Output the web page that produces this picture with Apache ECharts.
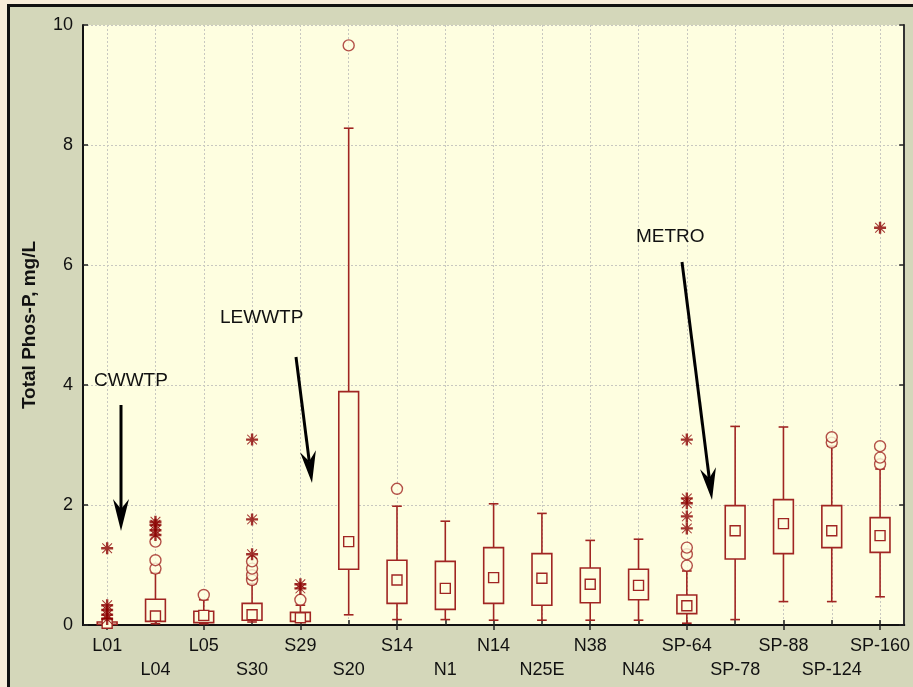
<!DOCTYPE html>
<html>
<head>
<meta charset="utf-8">
<script src="https://cdn.jsdelivr.net/npm/echarts@6/dist/echarts.min.js"></script>
<style>
  html, body { margin: 0; padding: 0; }
  #wrap { position: relative; width: 913px; height: 687px; background: #f7ecd9; overflow: hidden; }
  #frame { position: absolute; left: 7px; top: 4px; width: 920px; height: 700px; background: #d4d7ba; border: 3px solid #111; box-sizing: border-box; }
  #chart { position: absolute; left: 0; top: 0; width: 913px; height: 687px; }
</style>
</head>
<body>
<div id="wrap">
  <div id="frame"></div>
  <div id="chart"></div>
</div>
<script>
// Sampling stations, upstream to downstream
const categories = ['L01', 'L04', 'L05', 'S30', 'S29', 'S20', 'S14', 'N1', 'N14', 'N25E',
                    'N38', 'N46', 'SP-64', 'SP-78', 'SP-88', 'SP-124', 'SP-160'];

// Box statistics, Total Phos-P (mg/L)
const whiskerLow  = [0.00, 0.02, 0.02, 0.05, 0.05, 0.17, 0.09, 0.09, 0.08, 0.08, 0.08, 0.08, 0.03, 0.09, 0.39, 0.39, 0.47];
const quartile1   = [0.01, 0.06, 0.04, 0.08, 0.06, 0.93, 0.36, 0.26, 0.36, 0.33, 0.37, 0.42, 0.19, 1.10, 1.19, 1.29, 1.21];
const medians     = [0.03, 0.15, 0.16, 0.17, 0.12, 1.39, 0.75, 0.61, 0.79, 0.78, 0.68, 0.66, 0.32, 1.57, 1.69, 1.57, 1.49];
const quartile3   = [0.05, 0.43, 0.23, 0.36, 0.21, 3.89, 1.08, 1.06, 1.29, 1.19, 0.95, 0.93, 0.50, 1.99, 2.09, 1.99, 1.79];
const whiskerHigh = [0.07, 0.87, 0.42, 0.69, 0.33, 8.28, 1.98, 1.73, 2.02, 1.86, 1.41, 1.43, 0.90, 3.31, 3.30, 2.98, 2.60];

// Outliers (circles) and extremes (stars): [station, value]
const outliers = [
  ['L04', 0.94], ['L04', 1.08], ['L04', 1.39],
  ['L05', 0.50],
  ['S30', 0.75], ['S30', 0.83], ['S30', 0.94], ['S30', 1.06],
  ['S29', 0.42],
  ['S20', 9.66],
  ['S14', 2.27],
  ['SP-64', 0.99], ['SP-64', 1.18], ['SP-64', 1.29],
  ['SP-124', 3.04], ['SP-124', 3.13],
  ['SP-160', 2.68], ['SP-160', 2.79], ['SP-160', 2.98]
];
const extremes = [
  ['L01', 1.28], ['L01', 0.33], ['L01', 0.25], ['L01', 0.17], ['L01', 0.10],
  ['L04', 1.50], ['L04', 1.58], ['L04', 1.67], ['L04', 1.72],
  ['S30', 1.18], ['S30', 1.76], ['S30', 3.09],
  ['S29', 0.61], ['S29', 0.68],
  ['SP-64', 1.61], ['SP-64', 1.81], ['SP-64', 2.03], ['SP-64', 2.11], ['SP-64', 3.09],
  ['SP-160', 6.62]
];

// Y axis ticks
const yMin = 0, yMax = 10, yStep = 2;

const BOX = '#a02522';
const STAR = '#8b0000';
const PLOT_BG = '#fefee0';
const FONT = '"Liberation Sans", Arial, sans-serif';

const boxData = categories.map((c, i) =>
  [i, whiskerLow[i], quartile1[i], medians[i], quartile3[i], whiskerHigh[i]]);

// asterisk marker: bold plus with thin diagonals
const starPath = 'path://M0,4.8H12V7.2H0Z M4.8,0H7.2V12H4.8Z M1.5,0.8L11.2,10.5L10.5,11.2L0.8,1.5Z M10.5,0.8L11.2,1.5L1.5,11.2L0.8,10.5Z';

function renderBox(params, api) {
  const i = api.value(0);
  const band = api.size([1, 0])[0];
  const bw = band * 0.41, cw = band * 0.2, ms = 10;
  const lo = api.coord([i, api.value(1)]);
  const b1 = api.coord([i, api.value(2)]);
  const md = api.coord([i, api.value(3)]);
  const b3 = api.coord([i, api.value(4)]);
  const hi = api.coord([i, api.value(5)]);
  const x = lo[0];
  const ls = { stroke: BOX, lineWidth: 1.6, fill: null };
  return {
    type: 'group',
    children: [
      { type: 'line', shape: { x1: x, y1: lo[1], x2: x, y2: b1[1] }, style: ls },
      { type: 'line', shape: { x1: x, y1: b3[1], x2: x, y2: hi[1] }, style: ls },
      { type: 'line', shape: { x1: x - cw / 2, y1: lo[1], x2: x + cw / 2, y2: lo[1] }, style: ls },
      { type: 'line', shape: { x1: x - cw / 2, y1: hi[1], x2: x + cw / 2, y2: hi[1] }, style: ls },
      { type: 'rect', shape: { x: x - bw / 2, y: b3[1], width: bw, height: b1[1] - b3[1] },
        style: { stroke: BOX, lineWidth: 1.6, fill: PLOT_BG } },
      { type: 'rect', shape: { x: x - ms / 2, y: md[1] - ms / 2, width: ms, height: ms },
        style: { stroke: BOX, lineWidth: 1.4, fill: PLOT_BG } }
    ]
  };
}

// arrow callouts
function arrow(x1, y1, x2, y2) {
  const dx = x2 - x1, dy = y2 - y1, len = Math.hypot(dx, dy);
  const ux = dx / len, uy = dy / len, px = -uy, py = ux;
  const hl = 32, hw = 8, notch = 10;
  const bx = x2 - ux * hl, by = y2 - uy * hl;
  const nx = x2 - ux * (hl - notch), ny = y2 - uy * (hl - notch);
  return [
    { type: 'line', shape: { x1: x1, y1: y1, x2: nx, y2: ny }, style: { stroke: '#000', lineWidth: 3 }, z: 50 },
    { type: 'polygon', shape: { points: [[x2, y2], [bx + px * hw, by + py * hw], [nx, ny], [bx - px * hw, by - py * hw]] },
      style: { fill: '#000' }, z: 50 }
  ];
}

function note(text, x, y) {
  return { type: 'text', x: x, y: y, z: 50,
           style: { text: text, fill: '#111', font: '19px ' + FONT, textVerticalAlign: 'middle' } };
}

const chart = echarts.init(document.getElementById('chart'), null, { renderer: 'canvas' });

chart.setOption({
  backgroundColor: 'transparent',
  animation: false,
  grid: { left: 83, right: 6, top: 25, bottom: 62, show: true, backgroundColor: PLOT_BG,
          borderColor: '#222', borderWidth: 0 },
  xAxis: [
    {
      type: 'category', data: categories, boundaryGap: true,
      axisLine: { show: true, lineStyle: { color: '#111', width: 2 } },
      axisTick: { show: true, inside: true, alignWithLabel: true, length: 5, lineStyle: { color: '#222', width: 1.5 } },
      axisLabel: {
        interval: 0, color: '#111', fontSize: 18, fontFamily: FONT, margin: 9, lineHeight: 24,
        formatter: (v, idx) => (idx % 2 ? '\n' + v : v)
      },
      splitLine: { show: true, interval: 0, alignWithLabel: true, lineStyle: { color: '#c8c8c0', type: [2, 2], width: 1 } }
    },
    {
      type: 'category', data: categories, boundaryGap: true, position: 'top',
      axisLine: { show: true, lineStyle: { color: '#111', width: 2 } },
      axisTick: { show: true, inside: true, alignWithLabel: true, length: 5, lineStyle: { color: '#222', width: 1.5 } },
      axisLabel: { show: false },
      splitLine: { show: false }
    }
  ],
  yAxis: [
    {
      type: 'value', min: yMin, max: yMax, interval: yStep,
      name: 'Total Phos-P, mg/L', nameLocation: 'middle', nameGap: 44,
      nameTextStyle: { fontSize: 19, fontWeight: 'bold', color: '#111', fontFamily: FONT },
      axisLine: { show: true, lineStyle: { color: '#111', width: 2 } },
      axisTick: { show: true, inside: true, length: 5, lineStyle: { color: '#222', width: 1.5 } },
      axisLabel: { color: '#111', fontSize: 18, fontFamily: FONT, margin: 10 },
      splitLine: { show: true, lineStyle: { color: '#c8c8c0', type: [2, 2], width: 1 } }
    },
    {
      type: 'value', min: yMin, max: yMax, interval: yStep, position: 'right',
      axisLine: { show: true, lineStyle: { color: '#333', width: 2 } },
      axisTick: { show: true, inside: true, length: 5, lineStyle: { color: '#222', width: 1.5 } },
      axisLabel: { show: false },
      splitLine: { show: false }
    }
  ],
  series: [
    {
      type: 'custom', name: 'box', renderItem: renderBox, data: boxData,
      encode: { x: 0, y: [1, 2, 3, 4, 5] }, z: 3
    },
    {
      type: 'scatter', name: 'outliers', data: outliers, symbol: 'circle', symbolSize: 11,
      itemStyle: { color: PLOT_BG, borderColor: BOX, borderWidth: 1.4 }, z: 4
    },
    {
      type: 'scatter', name: 'extremes', data: extremes, symbol: starPath, symbolSize: 12,
      itemStyle: { color: STAR }, z: 5
    }
  ],
  graphic: [
    note('CWWTP', 94, 381),
    ...arrow(121, 405, 121, 531),
    note('LEWWTP', 220, 318),
    ...arrow(296, 357, 312, 483),
    note('METRO', 636, 237),
    ...arrow(682, 262, 712, 500)
  ]
});
</script>
</body>
</html>
